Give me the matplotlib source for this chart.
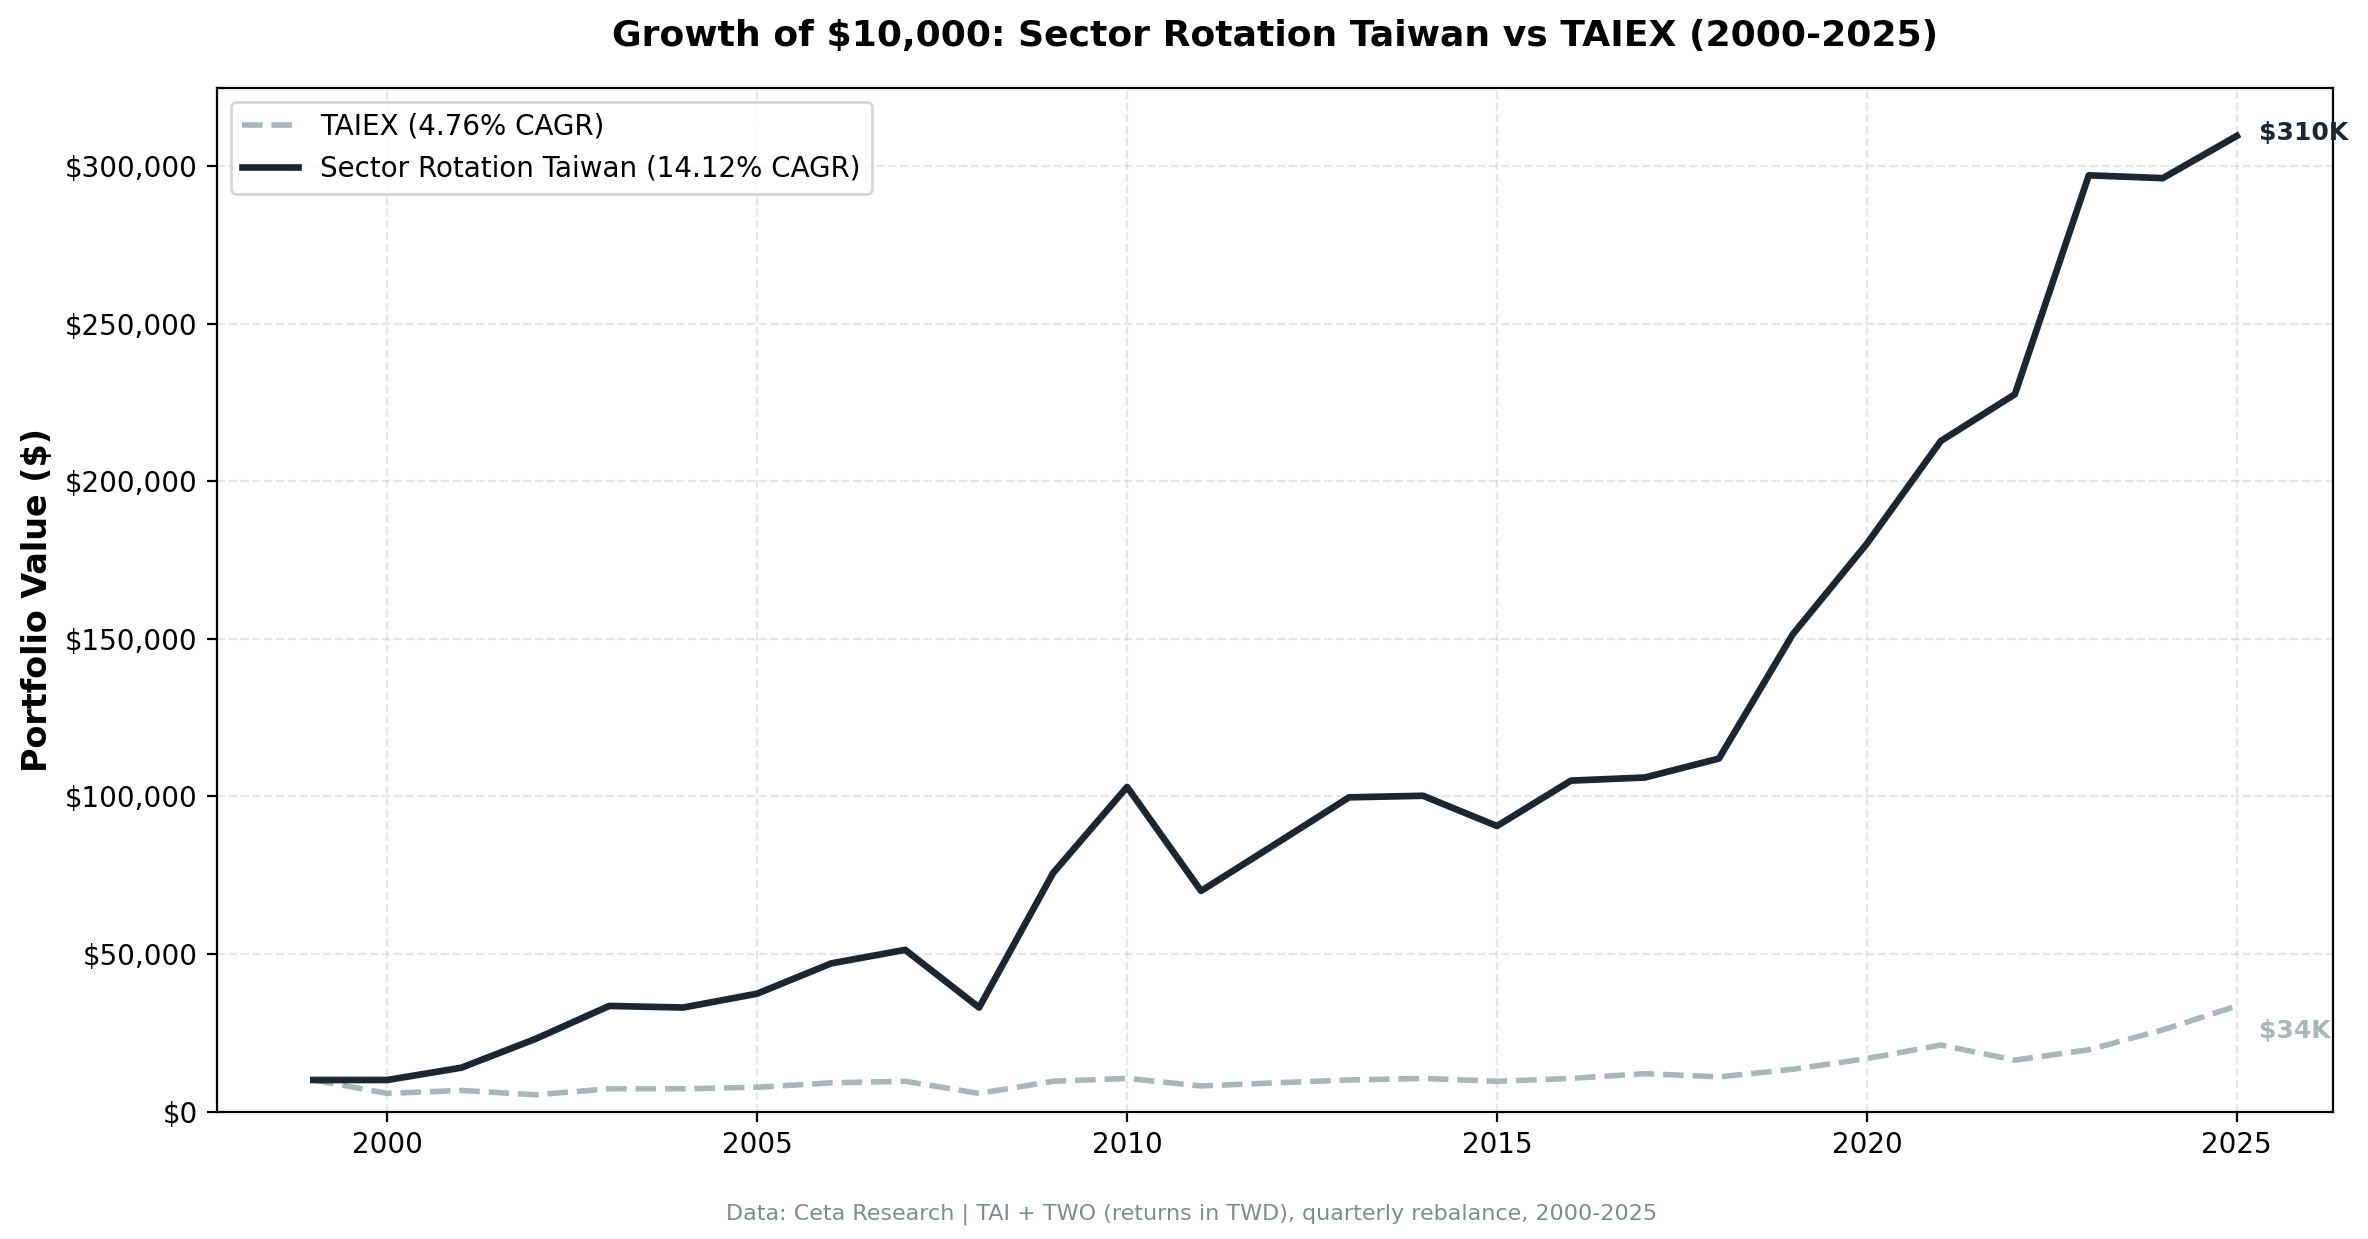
import matplotlib.pyplot as plt
from matplotlib.ticker import FuncFormatter

# Data
years = list(range(1999, 2026))
strategy = [10000, 10000, 13900, 23000, 33500, 33000, 37400, 47000, 51300, 33000,
            75700, 103000, 70000, 84800, 99700, 100200, 90600, 105000, 106000, 112000,
            151500, 180200, 212800, 227600, 297100, 296200, 309600]
taiex = [10000, 5750, 6700, 5300, 7200, 7200, 7700, 9100, 9600, 5750,
         9600, 10500, 8100, 9100, 10000, 10500, 9600, 10500, 12000, 11000,
         13400, 16800, 21100, 16300, 19600, 25900, 33500]

strat_color = "#1b2631"
taiex_color = "#aab7b8"

fig, ax = plt.subplots(figsize=(11.84, 6.195), dpi=200)
fig.subplots_adjust(left=0.0917, right=0.9852, top=0.929, bottom=0.1029)

ax.plot(years, taiex, linestyle="--", color=taiex_color, linewidth=2,
        label="TAIEX (4.76% CAGR)")
ax.plot(years, strategy, color=strat_color, linewidth=2.4,
        label="Sector Rotation Taiwan (14.12% CAGR)")

ax.annotate(r"\$310K", (years[-1], strategy[-1]), xytext=(8, 1),
            textcoords="offset points", ha="left", va="center",
            fontsize=9, fontweight="bold", color=strat_color)
ax.annotate(r"\$34K", (years[-1], taiex[-1]), xytext=(8, -9),
            textcoords="offset points", ha="left", va="center",
            fontsize=9, fontweight="bold", color=taiex_color)

ax.set_ylim(bottom=0)
ax.yaxis.set_major_formatter(FuncFormatter(lambda v, p: f"${v:,.0f}"))
ax.tick_params(labelsize=10)
ax.set_ylabel(r"Portfolio Value (\$)", fontsize=12, fontweight="bold")
ax.set_title(r"Growth of \$10,000: Sector Rotation Taiwan vs TAIEX (2000-2025)",
             fontsize=13, fontweight="bold", pad=15)
ax.grid(True, linestyle="--", alpha=0.3)
ax.legend(loc="upper left", fontsize=10)

fig.text(0.503, 0.02, "Data: Ceta Research | TAI + TWO (returns in TWD), quarterly rebalance, 2000-2025",
         ha="center", va="center", fontsize=8, color="#7f8c8d")

plt.savefig("out.png", dpi=200)
